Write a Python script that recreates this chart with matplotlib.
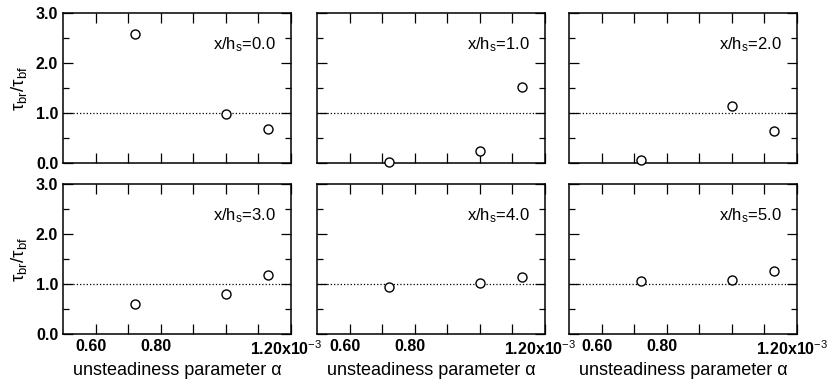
import matplotlib
matplotlib.use('Agg')
import matplotlib.pyplot as plt
import matplotlib.transforms as mtransforms
from matplotlib.ticker import FixedLocator, MultipleLocator

plt.rcParams['font.family'] = ['Liberation Sans', 'DejaVu Sans']
plt.rcParams['mathtext.fontset'] = 'custom'
plt.rcParams['mathtext.rm'] = 'Liberation Sans'
plt.rcParams['mathtext.it'] = 'Liberation Sans'

# unsteadiness parameter alpha (x10^-3)
alpha = [0.72, 1.00, 1.13]

# tau_br / tau_bf for each station x/h_s
stations = ['0.0', '1.0', '2.0', '3.0', '4.0', '5.0']
ratio_00 = [2.58, 0.99, 0.69]
ratio_10 = [0.02, 0.25, 1.53]
ratio_20 = [0.07, 1.14, 0.65]
ratio_30 = [0.61, 0.81, 1.19]
ratio_40 = [0.94, 1.03, 1.15]
ratio_50 = [1.07, 1.09, 1.27]
ratios = [ratio_00, ratio_10, ratio_20, ratio_30, ratio_40, ratio_50]

xticks = [0.6, 0.7, 0.8, 0.9, 1.0, 1.1, 1.2]
xticklabels = ['0.60', '', '0.80', '', '', '', '1.20x10$^{-3}$']
yticks = [0.0, 1.0, 2.0, 3.0]
yticklabels = ['0.0', '1.0', '2.0', '3.0']

fig = plt.figure(figsize=(8.3, 3.83), dpi=100)
lefts = [0.0759, 0.3819, 0.6855]
bottoms = [0.5744, 0.1279]
w, h = 0.2747, 0.3916

for i, (st, vals) in enumerate(zip(stations, ratios)):
    r, c = divmod(i, 3)
    ax = fig.add_axes([lefts[c], bottoms[r], w, h])
    ax.axhline(1.0, ls=':', color='k', lw=0.9)
    ax.plot(alpha, vals, 'o', mfc='white', mec='k', ms=6.5, mew=1.0, clip_on=False, zorder=3)
    ax.set_xlim(0.5, 1.2)
    ax.set_ylim(0, 3.0)
    ax.xaxis.set_major_locator(FixedLocator(xticks))
    ax.yaxis.set_major_locator(FixedLocator(yticks))
    ax.yaxis.set_minor_locator(MultipleLocator(0.5))
    ax.tick_params(which='both', direction='in', top=True, right=True, width=0.9)
    ax.tick_params(which='major', length=7)
    ax.tick_params(which='minor', length=4)
    for s in ax.spines.values():
        s.set_linewidth(1.1)
    if r == 1:
        ax.set_xticklabels(xticklabels, fontsize=11.5, weight='semibold')
        offset = mtransforms.ScaledTranslation(-5 / 100, 0, fig.dpi_scale_trans)
        for lab in ax.get_xticklabels():
            lab.set_transform(lab.get_transform() + offset)
        ax.set_xlabel('unsteadiness parameter α', fontsize=13, labelpad=3)
    else:
        ax.set_xticklabels([])
    if c == 0:
        ax.set_yticklabels(yticklabels, fontsize=11.5, weight='semibold')
        ax.set_ylabel(r'$\tau_{br}/\tau_{bf}$', fontsize=13.5, labelpad=5)
    else:
        ax.set_yticklabels([])
    ax.text(0.935, 0.787, r'x/h$_s$=' + st, transform=ax.transAxes,
            ha='right', va='center', fontsize=12)

fig.savefig('out.png', dpi=100)
